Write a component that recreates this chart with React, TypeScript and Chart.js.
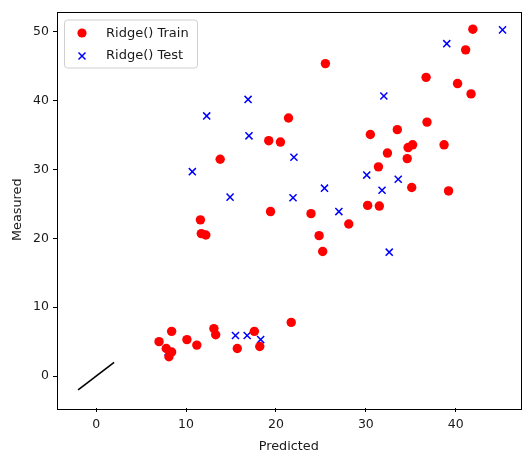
import React, { useEffect, useRef } from "react";
import { Chart, registerables } from "chart.js";

Chart.register(...registerables);

const TRAIN_X = [41.9, 41.1, 25.5, 36.7, 40.2, 41.7, 21.4, 36.8, 30.5, 33.5, 19.2, 20.5, 38.7, 35.2, 34.7, 32.4, 34.6, 31.4, 35.1, 39.2, 13.8, 19.4, 23.9, 28.1, 24.8, 25.2, 30.2, 31.5, 21.7, 17.6, 18.2, 11.6, 11.7, 12.2, 7.0, 8.4, 10.1, 11.2, 13.1, 13.3, 15.7, 7.8, 8.4, 8.1];
const TRAIN_Y = [50.4, 47.4, 45.4, 43.4, 42.5, 41.0, 37.5, 36.9, 35.1, 35.8, 34.2, 34.0, 33.6, 33.6, 33.2, 32.4, 31.6, 30.4, 27.4, 26.9, 31.5, 23.9, 23.6, 22.1, 20.4, 18.1, 24.8, 24.7, 7.8, 6.5, 4.3, 22.7, 20.7, 20.5, 5.0, 6.5, 5.3, 4.5, 6.9, 6.0, 4.0, 4.0, 3.5, 2.8];

const TEST_X = [45.2, 39.0, 32.0, 16.9, 12.3, 17.0, 22.0, 10.7, 14.9, 21.9, 25.4, 30.1, 33.6, 31.8, 27.0, 32.6, 8.0, 15.5, 16.8, 18.3];
const TEST_Y = [50.3, 48.3, 40.7, 40.2, 37.8, 34.9, 31.8, 29.7, 26.0, 25.9, 27.3, 29.2, 28.6, 27.0, 23.9, 18.0, 3.5, 5.9, 5.9, 5.3];

const LINE_X = [-2, 2];
const LINE_Y = [-2, 2];

const X_TICKS = [0, 10, 20, 30, 40];
const Y_TICKS = [0, 10, 20, 30, 40, 50];

const SERIES_LABELS = ["Ridge() Train", "Ridge() Test"];

const FONT = "'DejaVu Sans', sans-serif";
const TEXT = "#1a1a1a";

const framePlugin = {
  id: "frame",
  afterDraw(chart: any) {
    const { ctx, chartArea } = chart;
    ctx.save();
    ctx.strokeStyle = "#000";
    ctx.lineWidth = 1;
    ctx.strokeRect(
      Math.round(chartArea.left) + 0.5,
      Math.round(chartArea.top) + 0.5,
      Math.round(chartArea.right - chartArea.left),
      Math.round(chartArea.bottom - chartArea.top)
    );
    // legend
    const lx = chartArea.left + 7;
    const ly = chartArea.top + 8;
    const lw = 133;
    const lh = 48;
    ctx.fillStyle = "rgba(255,255,255,0.8)";
    ctx.strokeStyle = "#d0d0d0";
    ctx.lineWidth = 1;
    ctx.beginPath();
    (ctx as any).roundRect(lx + 0.5, ly + 0.5, lw, lh, 3);
    ctx.fill();
    ctx.stroke();
    ctx.font = "13px " + FONT;
    ctx.textBaseline = "middle";
    ctx.textAlign = "left";
    const ds0 = chart.data.datasets[0];
    const ds1 = chart.data.datasets[1];
    ctx.fillStyle = ds0.backgroundColor;
    ctx.beginPath();
    ctx.arc(lx + 18, ly + 13.5, 4.6, 0, Math.PI * 2);
    ctx.fill();
    ctx.fillStyle = TEXT;
    ctx.fillText(ds0.label, lx + 42, ly + 14);
    ctx.strokeStyle = ds1.borderColor;
    ctx.lineWidth = 1.5;
    const cx = lx + 18;
    const cy = ly + 36.5;
    const r = 3.5;
    ctx.beginPath();
    ctx.moveTo(cx - r, cy - r);
    ctx.lineTo(cx + r, cy + r);
    ctx.moveTo(cx - r, cy + r);
    ctx.lineTo(cx + r, cy - r);
    ctx.stroke();
    ctx.fillStyle = TEXT;
    ctx.fillText(ds1.label, lx + 42, ly + 36);
    ctx.restore();
  },
};

export default function App() {
  const ref = useRef<HTMLCanvasElement | null>(null);
  useEffect(() => {
    if (!ref.current) return;
    const chart = new Chart(ref.current, {
      type: "scatter",
      data: {
        datasets: [
          {
            label: SERIES_LABELS[0],
            data: TRAIN_X.map((x, i) => ({ x, y: TRAIN_Y[i] })),
            backgroundColor: "#ff0000",
            borderColor: "#ff0000",
            pointRadius: 4.7,
            pointBorderWidth: 0,
            pointStyle: "circle",
          },
          {
            label: SERIES_LABELS[1],
            data: TEST_X.map((x, i) => ({ x, y: TEST_Y[i] })),
            backgroundColor: "#0000ff",
            borderColor: "#0000ff",
            pointRadius: 5,
            pointBorderWidth: 1.5,
            pointStyle: "crossRot",
          },
          {
            label: "line",
            type: "line",
            data: LINE_X.map((x, i) => ({ x, y: LINE_Y[i] })),
            borderColor: "#000",
            borderWidth: 1.6,
            pointRadius: 0,
            showLine: true,
            fill: false,
          } as any,
        ],
      },
      options: {
        animation: false,
        responsive: false,
        layout: { padding: { top: 7, right: 2, left: 0, bottom: 0 } },
        plugins: {
          legend: { display: false },
          tooltip: { enabled: false },
        },
        scales: {
          x: {
            type: "linear",
            min: -4.35,
            max: 47.2,
            afterBuildTicks: (s: any) => {
              s.ticks = X_TICKS.map((v) => ({ value: v }));
            },
            afterFit: (s: any) => {
              s.height = 50;
            },
            border: { display: false },
            grid: {
              drawOnChartArea: false,
              drawTicks: true,
              tickLength: 4,
              color: "#000",
              lineWidth: 1,
            },
            ticks: {
              color: TEXT,
              padding: 5,
              font: { family: FONT, size: 12.5 },
              maxRotation: 0,
            },
            title: {
              display: true,
              text: "Predicted",
              color: TEXT,
              font: { family: FONT, size: 12.8 },
              padding: { top: 0, bottom: 4 },
            },
          },
          y: {
            type: "linear",
            min: -4.64,
            max: 52.97,
            afterBuildTicks: (s: any) => {
              s.ticks = Y_TICKS.map((v) => ({ value: v }));
            },
            afterFit: (s: any) => {
              s.width = 57;
            },
            border: { display: false },
            grid: {
              drawOnChartArea: false,
              drawTicks: true,
              tickLength: 4,
              color: "#000",
              lineWidth: 1,
            },
            ticks: {
              color: TEXT,
              padding: 4,
              font: { family: FONT, size: 12.5 },
            },
            title: {
              display: true,
              text: "Measured",
              color: TEXT,
              font: { family: FONT, size: 12.8 },
              padding: { top: 10, bottom: 0 },
            },
          },
        },
      },
      plugins: [framePlugin],
    });
    return () => chart.destroy();
  }, []);
  return (
    <div style={{ position: "fixed", left: 0, top: 0, width: 527, height: 458, background: "#fff" }}>
      <canvas ref={ref} width={527} height={458} />
    </div>
  );
}
